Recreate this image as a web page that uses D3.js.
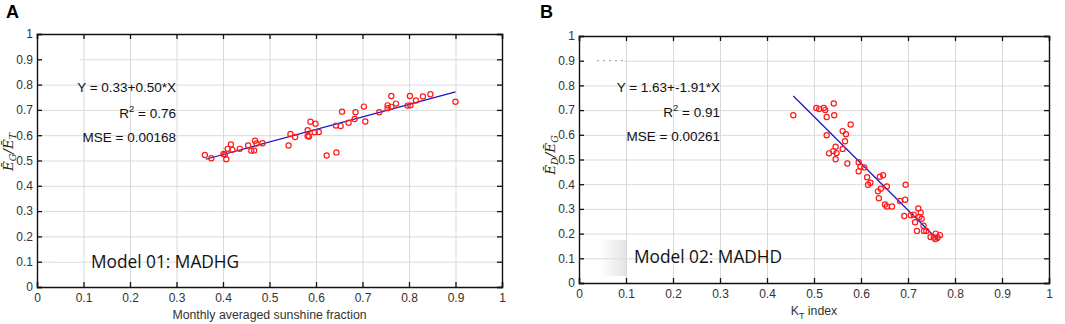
<!DOCTYPE html>
<html>
<head>
<meta charset="utf-8">
<script src="https://cdn.jsdelivr.net/npm/d3@7"></script>
<style>
  body { margin: 0; background: #fff; }
  svg { display: block; }
  .tick text { font-family: "Liberation Sans", Arial, sans-serif; font-size: 12px; fill: #333; }
</style>
</head>
<body>
<div id="chart"></div>
<script>
// tick values shared by both panels
var tickVals = [0, 0.1, 0.2, 0.3, 0.4, 0.5, 0.6, 0.7, 0.8, 0.9, 1];

// panel A: sunshine fraction vs EG/ET
var aSunshine = [0.361,0.375,0.401,0.404,0.407,0.410,0.417,0.420,0.436,0.454,0.461,0.467,0.469,0.472,0.485,
  0.541,0.545,0.555,0.582,0.582,0.585,0.588,0.597,0.599,0.606,0.623,0.643,0.644,0.653,0.656,0.670,0.683,
  0.685,0.703,0.706,0.736,0.754,0.754,0.762,0.762,0.772,0.797,0.802,0.803,0.815,0.830,0.846,0.900];
var aRatio = [0.522,0.509,0.526,0.523,0.505,0.546,0.563,0.542,0.546,0.559,0.539,0.540,0.578,0.567,0.568,
  0.559,0.605,0.593,0.620,0.597,0.595,0.653,0.612,0.645,0.613,0.520,0.638,0.532,0.636,0.693,0.649,0.664,
  0.691,0.713,0.654,0.691,0.718,0.707,0.755,0.712,0.725,0.717,0.755,0.718,0.737,0.753,0.762,0.732];
var aFitX = [0.363, 0.900];
var aFitY = [0.505, 0.771];
var aStats = ["Y = 0.33+0.50*X", "0.76", "MSE = 0.00168"];

// panel B: KT index vs ED/EG
var bKt = [0.456,0.505,0.511,0.521,0.524,0.527,0.527,0.532,0.541,0.542,0.543,0.546,0.546,0.548,0.561,0.561,
  0.566,0.568,0.571,0.578,0.595,0.595,0.599,0.607,0.613,0.615,0.620,0.636,0.638,0.640,0.642,0.647,0.651,
  0.655,0.655,0.666,0.683,0.692,0.694,0.695,0.706,0.712,0.715,0.719,0.722,0.724,0.727,0.729,0.733,0.734,
  0.739,0.748,0.758,0.759,0.763,0.768,0.755];
var bRatio = [0.679,0.709,0.704,0.709,0.700,0.672,0.598,0.525,0.534,0.727,0.679,0.552,0.501,0.526,0.615,0.543,
  0.574,0.602,0.484,0.642,0.489,0.452,0.472,0.468,0.428,0.398,0.406,0.371,0.343,0.430,0.382,0.436,0.318,
  0.391,0.310,0.310,0.332,0.271,0.337,0.398,0.274,0.277,0.246,0.211,0.302,0.267,0.285,0.260,0.232,0.211,
  0.211,0.186,0.178,0.200,0.184,0.194,0.184];
var bFitX = [0.456, 0.766];
var bFitY = [0.757, 0.170];
var bStats = ["Y = 1.63+-1.91*X", "0.91", "MSE = 0.00261"];

var svg = d3.select('#chart').append('svg')
    .attr('width', 1065)
    .attr('height', 324);

var defs = svg.append('defs');
var grad = defs.append('linearGradient').attr('id', 'smudge');
grad.append('stop').attr('offset', '0%').attr('stop-color', '#ddd').attr('stop-opacity', 0);
grad.append('stop').attr('offset', '100%').attr('stop-color', '#ddd').attr('stop-opacity', 0.8);

function scatter_plot(p) {
    var width = p.right - p.left,
        height = p.bottom - p.top;
    var g = svg.append('g').attr('transform', `translate(${p.left}, ${p.top})`);

    var x = d3.scaleLinear().domain([0, 1]).range([0, width]);
    var y = d3.scaleLinear().domain([0, 1]).range([height, 0]);

    // grid
    g.append('g')
        .attr('transform', `translate(0,${height})`)
        .call(d3.axisBottom(x).tickValues(tickVals).tickSize(-height).tickFormat(''))
        .call(a => a.select('.domain').remove())
        .selectAll('line').attr('stroke', '#d9d9d9');
    g.append('g')
        .call(d3.axisLeft(y).tickValues(tickVals).tickSize(-width).tickFormat(''))
        .call(a => a.select('.domain').remove())
        .selectAll('line').attr('stroke', '#d9d9d9');

    // smudged bits of the grid in the original figure
    p.erase.forEach(r => g.append('rect').attr('x', r[0]).attr('y', r[1])
        .attr('width', r[2]).attr('height', r[3]).attr('fill', r[4] || '#fff'));
    p.dots.forEach(r => g.append('line').attr('x1', r[0]).attr('x2', r[1])
        .attr('y1', y(r[2])).attr('y2', y(r[2]))
        .attr('stroke', '#999').attr('stroke-dasharray', '2,4'));

    var fmt = d => d3.format('~g')(d);
    g.append('g').attr('class', 'axis')
        .attr('transform', `translate(0,${height})`)
        .call(d3.axisBottom(x).tickValues(tickVals).tickFormat(fmt).tickSize(-5).tickPadding(6));
    g.append('g').attr('class', 'axis')
        .call(d3.axisLeft(y).tickValues(tickVals).tickFormat(fmt).tickSize(-5).tickPadding(4));
    g.append('g')
        .call(d3.axisTop(x).tickValues(tickVals).tickFormat('').tickSize(-5));
    g.append('g')
        .attr('transform', `translate(${width},0)`)
        .call(d3.axisRight(y).tickValues(tickVals).tickFormat('').tickSize(-5));
    g.selectAll('.domain').attr('stroke', '#111').attr('stroke-width', 1.4);
    g.selectAll('.tick line').filter(function() { return this.getAttribute('stroke') !== '#d9d9d9'; })
        .attr('stroke', '#111').attr('stroke-width', 1.3);

    // fit line
    var line = d3.line().x(d => x(d[0])).y(d => y(d[1]));
    g.append('path')
        .attr('d', line(d3.zip(p.fitX, p.fitY)))
        .attr('fill', 'none')
        .attr('stroke', '#1414c8')
        .attr('stroke-width', 1.2);

    // points
    g.selectAll('circle.pt').data(d3.zip(p.xs, p.ys)).join('circle')
        .attr('class', 'pt')
        .attr('cx', d => x(d[0]))
        .attr('cy', d => y(d[1]))
        .attr('r', 2.6)
        .attr('fill', 'none')
        .attr('stroke', '#ff1a1a')
        .attr('stroke-width', 1.2);

    // regression stats
    var st = g.append('g')
        .attr('font-family', '"Liberation Sans", Arial, sans-serif')
        .attr('font-size', 13.5)
        .attr('fill', '#111')
        .attr('text-anchor', 'end');
    st.append('text').attr('x', p.statX).attr('y', p.statY[0]).text(p.stats[0]);
    var r2 = st.append('text').attr('x', p.statX).attr('y', p.statY[1]);
    r2.append('tspan').text('R');
    r2.append('tspan').attr('dy', -6).attr('font-size', 9.5).text('2');
    r2.append('tspan').attr('dy', 6).text(' = ' + p.stats[1]);
    st.append('text').attr('x', p.statX).attr('y', p.statY[2]).text(p.stats[2]);

    // model name
    g.append('text')
        .attr('x', p.modelX).attr('y', p.modelY)
        .attr('font-family', '"Open Sans", "Noto Sans", sans-serif')
        .attr('font-size', 17.3)
        .attr('fill', '#111')
        .text(p.model);

    // x title
    var xt = svg.append('text')
        .attr('x', p.left + width / 2).attr('y', p.xTitleY)
        .attr('text-anchor', 'middle')
        .attr('font-family', '"Liberation Sans", Arial, sans-serif')
        .attr('font-size', 12.3)
        .attr('fill', '#333');
    p.xTitle.forEach(s => xt.append('tspan').attr('dy', s[1]).attr('font-size', s[2] || 12.3).text(s[0]));

    // y title
    var yt = svg.append('text')
        .attr('transform', `translate(${p.yTitleX},${p.yTitleY}) rotate(-90)`)
        .attr('text-anchor', 'middle')
        .attr('font-family', '"DejaVu Serif", "Liberation Serif", serif')
        .attr('font-style', 'italic')
        .attr('font-size', 13.5)
        .attr('fill', '#222');
    p.yTitle.forEach(s => yt.append('tspan').attr('dy', s[1]).attr('font-size', s[2] || 13.5).text(s[0]));

    // panel letter
    svg.append('text')
        .attr('x', p.letterX).attr('y', 18)
        .attr('font-family', '"Liberation Sans", Arial, sans-serif')
        .attr('font-weight', 'bold')
        .attr('font-size', 18)
        .attr('fill', '#000')
        .text(p.letter);
}

scatter_plot({
    left: 37, right: 502, top: 34, bottom: 287,
    xs: aSunshine, ys: aRatio, fitX: aFitX, fitY: aFitY, stats: aStats,
    statX: 139, statY: [58, 84, 108],
    model: 'Model 01: MADHG', modelX: 54, modelY: 234,
    xTitle: [['Monthly averaged sunshine fraction', 0]], xTitleY: 319,
    yTitle: [['Ē', 0], ['G', 3, 9.5], ['/Ē', -3], ['T', 3, 9.5]], yTitleX: 13, yTitleY: 152,
    letter: 'A', letterX: 6,
    erase: [[1, 22, 42, 8], [18, 224, 26, 4, 'rgba(255,255,255,0.6)']],
    dots: []
});

scatter_plot({
    left: 579, right: 1049, top: 36, bottom: 283,
    xs: bKt, ys: bRatio, fitX: bFitX, fitY: bFitY, stats: bStats,
    statX: 141, statY: [56, 81, 105],
    model: 'Model 02: MADHD', modelX: 55, modelY: 227,
    xTitle: [['K', 0], ['T', 4, 9], [' index', -4]], xTitleY: 315,
    yTitle: [['Ē', 0], ['D', 3, 9.5], ['/Ē', -3], ['G', 3, 9.5]], yTitleX: 555, yTitleY: 155,
    letter: 'B', letterX: 540,
    erase: [[1, 20, 44, 8], [21, 204, 26, 36, 'url(#smudge)']],
    dots: [[18, 44, 0.9]]
});
</script>
</body>
</html>
